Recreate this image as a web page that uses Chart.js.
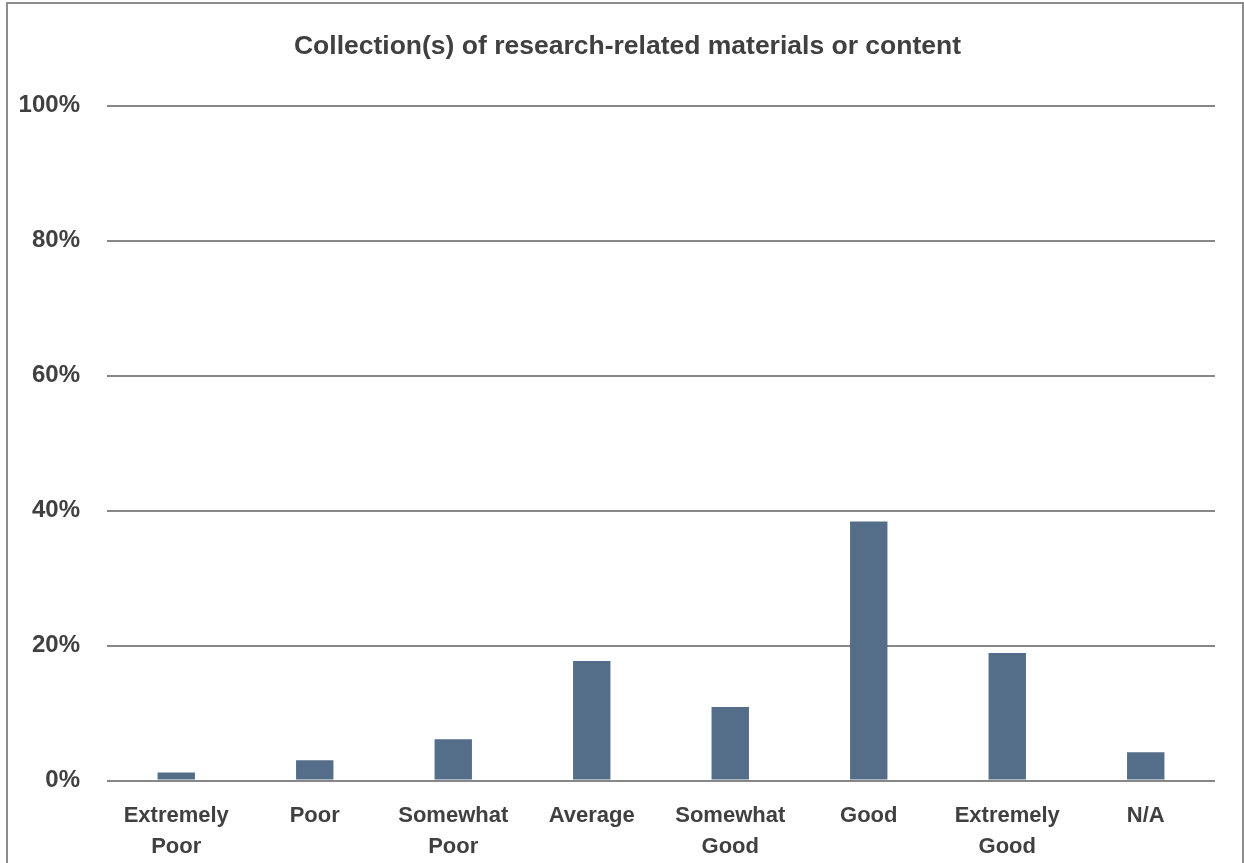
<!DOCTYPE html>
<html>
<head>
<meta charset="utf-8">
<script src="https://cdn.jsdelivr.net/npm/chart.js@4"></script>
<style>
  body { margin: 0; background: #fff; overflow: hidden; }
  #frame { position: absolute; left: 6px; top: 2px; width: 1234px; height: 900px; border: 2px solid #8c8c8c; }
  #wrap { position: absolute; left: 0; top: 0; width: 1244px; height: 863px; }
</style>
</head>
<body onload="handleOnLoad()">
<div id="frame"></div>
<div id="wrap"><canvas id="myChart" width="1244" height="863"></canvas></div>
<script>
const titleText = 'Collection(s) of research-related materials or content'
const categories = [
  ['Extremely', 'Poor'], 'Poor', ['Somewhat', 'Poor'], 'Average',
  ['Somewhat', 'Good'], 'Good', ['Extremely', 'Good'], 'N/A'
]
const values = [1.2, 3.0, 6.1, 17.7, 10.9, 38.4, 18.9, 4.2]
const yMin = 0
const yMax = 100
const yStep = 20

const fontFamily = "'Liberation Sans', Arial, sans-serif"
const textColor = '#404040'

// title in the original sits a bit right of the canvas centre
const shiftTitle = {
  id: 'shiftTitle',
  afterLayout(chart) {
    if (chart.titleBlock) chart.titleBlock.left += 20
  }
}

function handleOnLoad(){
  CreateChart()
}

function CreateChart(){
  const ctx = document.getElementById('myChart').getContext('2d')
  const myChart = new Chart(ctx, {
    type: 'bar',
    data: {
      labels: categories,
      datasets: [{
        label: titleText,
        data: values,
        backgroundColor: '#546e8a',
        borderWidth: 0,
        barPercentage: 0.27,
        categoryPercentage: 1
      }]
    },
    options: {
      responsive: false,
      animation: false,
      layout: {
        padding: { left: 20, right: 29, top: 0, bottom: 0 }
      },
      plugins: {
        legend: { display: false },
        tooltip: { enabled: false },
        title: {
          display: true,
          text: titleText,
          color: textColor,
          font: { family: fontFamily, size: 26.5, weight: 'bold' },
          padding: { top: 31, bottom: 43 }
        }
      },
      scales: {
        x: {
          grid: { display: false },
          border: { display: false },
          ticks: {
            color: textColor,
            font: { family: fontFamily, size: 22, weight: 'bold', lineHeight: 1.4 },
            padding: 12,
            maxRotation: 0,
            autoSkip: false
          },
          afterFit: function(scale) { scale.height = 82.5 }
        },
        y: {
          min: yMin,
          max: yMax,
          grid: { color: '#878787', lineWidth: 2, drawTicks: false },
          border: { display: false },
          ticks: {
            stepSize: yStep,
            color: textColor,
            font: { family: fontFamily, size: 24, weight: 'bold' },
            padding: 27,
            callback: function(v) { return v + '%' }
          },
          afterFit: function(scale) { scale.width = 87 }
        }
      }
    },
    plugins: [shiftTitle]
  })
}
</script>
</body>
</html>
